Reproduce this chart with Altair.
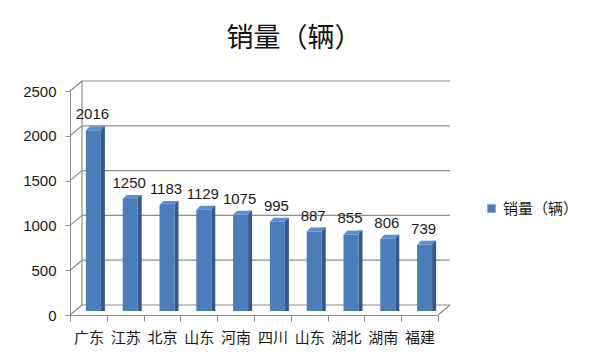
import altair as alt
import pandas as pd

provinces = ["广东", "江苏", "北京", "山东", "河南", "四川", "山东", "湖北", "湖南", "福建"]
sales = [2016, 1250, 1183, 1129, 1075, 995, 887, 855, 806, 739]
y_ticks = [0, 500, 1000, 1500, 2000, 2500]
series_name = "销量（辆）"

df = pd.DataFrame({
    "idx": list(range(len(provinces))),
    "prov": provinces,
    "v": sales,
    "zero": [0] * len(sales),
    "s": [series_name] * len(sales),
})
grid = pd.DataFrame({"t": y_ticks})
ends = pd.DataFrame({"lo": [y_ticks[0]], "hi": [y_ticks[-1]]})

label_expr = "[" + ",".join("'%s'" % p for p in provinces) + "][datum.value]"
cjk = "Noto Sans CJK SC"
num_font = "Liberation Sans"
W, H = 368, 224
DX, DY = 12, -10
GRID = "#8c8c8c"

xs = alt.X("idx:O", scale=alt.Scale(paddingInner=0, paddingOuter=0),
           axis=alt.Axis(title=None, labelExpr=label_expr, labelAngle=0,
                         labelFont=cjk, labelFontSize=15, labelColor="#1a1a1a",
                         domainColor=GRID, tickColor=GRID,
                         tickBand="extent", tickSize=6, labelPadding=9,
                         grid=False))
ys_scale = alt.Scale(domain=[0, 2500])
yaxis = alt.Axis(title=None, values=y_ticks, format="d", labelFont=num_font, labelFontSize=15,
                 labelColor="#1a1a1a", domainColor=GRID, tickColor=GRID,
                 tickSize=5, labelPadding=9, grid=False)

# back wall gridlines
back_grid = alt.Chart(grid).mark_rule(color=GRID, strokeWidth=1.2, yOffset=DY).encode(
    y=alt.Y("t:Q", scale=ys_scale, axis=yaxis),
    x=alt.value(DX), x2=alt.value(W + DX))
# diagonal connectors from front axis to back wall
diag = alt.Chart(grid).mark_rule(color=GRID, strokeWidth=1.2, y2Offset=DY).encode(
    y=alt.Y("t:Q", scale=ys_scale), y2=alt.Y2("t:Q"),
    x=alt.value(0), x2=alt.value(DX))
# back wall vertical edge
back_edge = alt.Chart(ends).mark_rule(color=GRID, strokeWidth=1.2, yOffset=DY, y2Offset=DY).encode(
    y=alt.Y("lo:Q", scale=ys_scale), y2=alt.Y2("hi:Q"), x=alt.value(DX))
# floor right diagonal
floor_diag = alt.Chart(ends).mark_rule(color=GRID, strokeWidth=1.2, y2Offset=DY).encode(
    y=alt.Y("lo:Q", scale=ys_scale), y2=alt.Y2("lo:Q"),
    x=alt.value(W), x2=alt.value(W + DX))

side = alt.Chart(df).mark_bar(size=4, xOffset=14.5, yOffset=-8, y2Offset=-4,
                              color="#35598a").encode(
    x=xs, y=alt.Y("v:Q", scale=ys_scale), y2="zero:Q")
front = alt.Chart(df).mark_bar(size=15, xOffset=5, yOffset=-4, y2Offset=-4).encode(
    x=xs, y=alt.Y("v:Q", scale=ys_scale), y2="zero:Q",
    color=alt.Color("s:N", scale=alt.Scale(range=["#4a7ebb"]),
                    legend=alt.Legend(title=None, orient="none", legendX=414, legendY=110,
                                      symbolType="square", symbolSize=70,
                                      symbolStrokeWidth=0, labelFont=cjk,
                                      labelFontSize=15, labelColor="#1a1a1a",
                                      labelOffset=4)))
top_shape = "M -0.75 0 L 0.75 0 L 1.15 -0.4 L -0.35 -0.4 Z"
top = alt.Chart(df).mark_point(shape=top_shape, size=400, filled=True, opacity=1,
                               color="#5a8fd0", strokeWidth=0, xOffset=5, yOffset=-4).encode(
    x=xs, y=alt.Y("v:Q", scale=ys_scale))
labels = alt.Chart(df).mark_text(font=num_font, fontSize=15, color="#1a1a1a", baseline="middle",
                                 xOffset=4, yOffset=-20).encode(
    x=xs, y=alt.Y("v:Q", scale=ys_scale), text="v:Q")

chart = alt.layer(back_grid, diag, back_edge, floor_diag, side, front, top, labels).properties(
    width=W, height=H,
    padding={"left": 62, "top": 83, "right": 154, "bottom": 41},
    autosize=alt.AutoSizeParams(type="none"),
    title=alt.Title(series_name, font=cjk, fontSize=27, fontWeight="normal", color="#111",
                    dx=40, offset=27),
).configure(background="white").configure_view(stroke=None)

chart.save("out.html", embed_options={"renderer": "svg", "actions": False})
